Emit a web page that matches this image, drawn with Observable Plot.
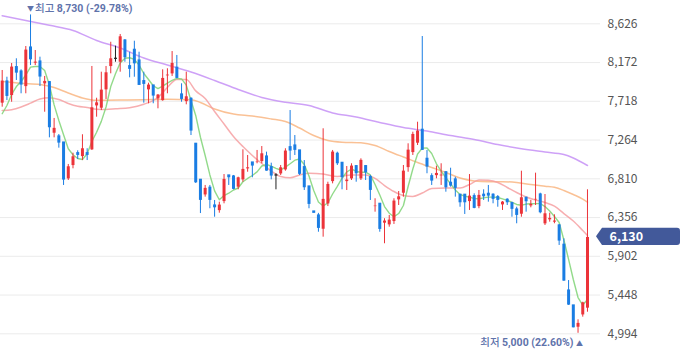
<!DOCTYPE html>
<html><head><meta charset="utf-8">
<script src="https://cdn.jsdelivr.net/npm/d3@7"></script>
<script src="https://cdn.jsdelivr.net/npm/@observablehq/plot@0.6"></script>
<style>
html,body{margin:0;padding:0;background:#fff;}
#chart{width:680px;height:358px;overflow:hidden;}
</style></head><body><div id="chart"></div>
<script>
const open = [7689,7950,7778,8118,8067,7883,8348,8157,8184,7915,7942,7337,7306,7235,6802,6958,7110,7063,7110,7142,7657,7630,7845,8118,8216,8169,8430,8129,8321,8196,7954,7845,7903,7739,7719,8009,8032,8111,7798,7707,7747,7220,6798,6614,6705,6497,6430,6536,6849,6837,6705,6790,6919,7001,6993,7005,7071,6946,6849,6860,6907,7180,7200,7142,6946,6720,6427,6380,6212,6509,6770,7103,6997,6770,6802,6958,6802,6958,6829,6477,6517,6283,6263,6302,6556,6634,6934,7110,7220,7384,7044,6840,6840,6837,6887,6763,6802,6623,6623,6536,6606,6477,6623,6634,6623,6595,6497,6564,6524,6450,6388,6587,6485,6556,6626,6275,6322,6295,6263,6037,5501,5326,5064,5208,5287];
const high = [8079,8000,8161,8216,8087,8360,8730,8313,8235,8009,7950,7517,7329,7235,6978,7110,7138,7326,7162,8126,7754,8059,8126,8410,8364,8501,8442,8293,8422,8293,8059,7930,7903,7798,8087,8099,8301,8255,7923,8059,7759,7224,6802,6732,6732,6556,6536,6860,6849,6849,6829,7150,7083,7001,7142,7188,7122,6993,6869,6966,7162,7610,7317,7142,7024,6720,6427,6405,7396,6770,7142,7122,6997,6954,6986,6966,7044,6966,6849,6576,6517,6342,6380,6576,6661,6966,7220,7356,7473,8477,7142,6869,6958,6986,6887,6934,6829,6623,6623,6860,6634,6673,6681,6732,6634,6614,6544,6576,6536,6477,6899,6595,6556,6876,6641,6626,6407,6388,6275,6107,5618,5326,5158,5364,6681];
const low = [7649,7727,7707,7962,7806,7806,8137,8137,7891,7590,7290,7290,7169,6732,6790,6927,7036,7024,7024,7142,7532,7610,7739,8040,8176,8059,8176,7993,8000,7903,7696,7689,7689,7630,7719,7806,8009,7982,7707,7677,7317,6755,6403,6595,6459,6360,6407,6517,6732,6681,6681,6770,6887,6822,6986,6986,6899,6798,6681,6849,6899,7024,7083,6849,6673,6459,6412,6184,6126,6485,6751,6966,6681,6673,6790,6770,6790,6790,6556,6419,6184,6049,6243,6275,6497,6595,6887,7083,7200,7142,6869,6732,6810,6732,6653,6712,6595,6477,6392,6439,6459,6459,6556,6536,6517,6477,6439,6497,6360,6283,6360,6419,6470,6497,6400,6263,6302,6283,6029,5610,5326,5064,5000,5189,5247];
const close = [7962,7782,8126,8055,7915,8325,8211,8184,8009,7958,7415,7408,7235,6802,6958,7075,7091,7169,7091,7649,7707,7856,8059,8223,8216,8481,8235,8099,8164,7911,7923,7915,7786,7798,7993,8032,8169,7993,7747,7778,7376,6770,6564,6705,6564,6477,6509,6810,6829,6693,6829,6927,6946,6966,7013,7110,6907,6849,6849,6946,7142,7142,7150,6869,6712,6517,6412,6236,6576,6751,7130,6993,6829,6802,6966,6876,7033,6887,6681,6497,6224,6322,6333,6556,6606,6907,7153,7337,7376,7150,6954,6790,6880,6860,6712,6732,6705,6536,6536,6614,6470,6623,6606,6614,6576,6564,6544,6536,6459,6388,6595,6548,6517,6576,6419,6407,6353,6322,6087,5618,5337,5071,5123,5364,6130];

// moving averages
const ma5 = [7572,7669,7798,7891,7950,8026,8118,8126,8126,8079,7909,7676,7493,7326,7162,7092,7048,7036,7103,7247,7356,7483,7651,7891,8040,8168,8223,8228,8209,8142,8044,7973,7900,7866,7895,7931,7963,7986,7980,7907,7727,7552,7297,7083,6855,6669,6564,6614,6641,6679,6702,6775,6814,6849,6891,6960,6978,6958,6933,6913,6946,6986,7028,7042,6978,6843,6673,6538,6491,6527,6632,6722,6817,6890,6925,6896,6887,6887,6855,6743,6620,6485,6407,6365,6403,6497,6720,6925,7101,7169,7171,7106,6986,6901,6822,6751,6679,6626,6606,6595,6579,6576,6587,6595,6595,6591,6575,6558,6535,6509,6500,6514,6517,6519,6521,6485,6433,6368,6298,6093,5865,5630,5419,5331,5396];
const ma20Idx = [0,2,4,6,8,10,12,14,16,18,20,22,24,27,30,33,35,37,39,41,43,45,47,49,51,53,55,57,59,61,63,65,68,71,74,77,79,81,83,85,87,89,91,94,97,99,101,103,105,107,109,111,113,115,117,119,121,123,124];
const ma20Val = [7610,7620,7651,7696,7745,7759,7739,7692,7659,7645,7625,7622,7630,7643,7684,7763,7880,7973,7973,7840,7751,7598,7452,7306,7188,7083,6989,6901,6837,6823,6855,6876,6866,6837,6855,6855,6814,6731,6661,6614,6603,6644,6696,6702,6702,6743,6796,6792,6767,6708,6649,6597,6562,6532,6491,6403,6316,6204,6146];
const ma60Idx = [0,4,8,11,14,17,20,25,30,35,40,42,45,49,53,57,60,63,66,69,72,76,79,82,85,88,91,94,97,100,103,106,109,112,115,117,119,121,123,124];
const ma60Val = [7950,7929,7915,7880,7815,7757,7730,7732,7736,7741,7737,7704,7628,7569,7546,7511,7481,7405,7317,7259,7239,7232,7200,7130,7065,7001,6942,6884,6819,6784,6775,6776,6767,6743,6723,6710,6673,6626,6573,6536];
const ma120Idx = [0,5,10,15,20,25,30,35,40,45,50,55,60,65,70,75,80,85,90,95,100,105,110,115,119,121,124];
const ma120Val = [8721,8665,8608,8548,8430,8342,8225,8143,8061,7962,7856,7763,7707,7669,7581,7534,7470,7411,7370,7317,7271,7212,7161,7124,7095,7054,6966];

const yTicks = [4994,5448,5902,6356,6810,7264,7718,8172,8626];
const maxIdx = 6, maxPrice = 8730, maxWord = "최고", maxNum = "8,730 (-29.78%)";
const minIdx = 122, minPrice = 5000, minWord = "최저", minNum = "5,000 (22.60%)";
const lastPrice = 6130;

const candles = open.map((o, i) => ({i, o, h: high[i], l: low[i], c: close[i]}));
const RED = "#ec3339", BLUE = "#1a7de3", DOJI = "#222";
const col = d => d.c > d.o ? RED : d.c < d.o ? BLUE : DOJI;
const series = (idx, val) => idx.map((i, k) => ({i, v: val[k]}));
const fmt = d3.format(",");
const LBL = "#5f73ab";
const CJK = "'Noto Sans CJK KR', 'Noto Sans', sans-serif";
const NUM = "Roboto, 'Noto Sans', sans-serif";

function badge(index, scales, values, dimensions) {
  const y = scales.y(lastPrice);
  const x0 = dimensions.width - dimensions.marginRight;
  const xr = dimensions.width;
  const p = d3.create("svg:path")
    .attr("d", `M${x0-4},${y} L${x0+2},${y-8.7} H${xr-3} Q${xr},${y-8.7} ${xr},${y-5.7} V${y+5.7} Q${xr},${y+8.7} ${xr-3},${y+8.7} H${x0+2} Z`)
    .attr("fill", "#42599a");
  return p.node();
}

// two-part label: Korean word (regular) + number (bold)
function extremeLabel(idx, price, word, num, anchor, dx, dy) {
  return (index, scales, values, dimensions) => {
    const x = scales.x(idx) + dx, y = scales.y(price) + dy;
    const t = d3.create("svg:text")
      .attr("x", x).attr("y", y).attr("dy", "0.35em")
      .attr("text-anchor", anchor).attr("fill", LBL).attr("font-size", 10.5);
    t.append("tspan").attr("font-family", CJK).attr("font-weight", 500).text(word + " ");
    t.append("tspan").attr("font-family", NUM).attr("font-weight", 700).text(num);
    return t.node();
  };
}

const chart = Plot.plot({
  width: 680, height: 358,
  marginLeft: 0, marginRight: 80, marginTop: 23.3, marginBottom: 24.7,
  x: {domain: [-0.36, 126.76], axis: null},
  y: {domain: [4994, 8626], axis: null},
  color: {type: "identity"},
  style: {fontFamily: CJK, fontSize: "12px", background: "#fff", overflow: "visible"},
  marks: [
    Plot.gridY(yTicks, {stroke: "#ececec", strokeOpacity: 1, strokeWidth: 1}),
    Plot.axisY(yTicks, {anchor: "right", tickSize: 0, tickPadding: 7, tickFormat: fmt, fill: "#555", fontSize: 12, label: null}),
    Plot.line(series(ma120Idx, ma120Val), {x: "i", y: "v", stroke: "#c28af5", strokeOpacity: 0.8, strokeWidth: 1.5, curve: "monotone-x"}),
    Plot.line(series(ma60Idx, ma60Val), {x: "i", y: "v", stroke: "#f9b27a", strokeOpacity: 0.8, strokeWidth: 1.5, curve: "monotone-x"}),
    Plot.line(series(ma20Idx, ma20Val), {x: "i", y: "v", stroke: "#f59a9c", strokeOpacity: 0.8, strokeWidth: 1.5, curve: "monotone-x"}),
    Plot.line(ma5.map((v, i) => ({i, v})), {x: "i", y: "v", stroke: "#7fd476", strokeOpacity: 0.85, strokeWidth: 1.4}),
    Plot.ruleX(candles, {x: "i", y1: "l", y2: "h", stroke: col, strokeWidth: 1}),
    Plot.ruleX(candles, {x: "i", y1: "o", y2: "c", stroke: col, strokeWidth: 3, insetTop: -0.6, insetBottom: -0.6}),
    Plot.text([{i: maxIdx, v: maxPrice}], {x: "i", y: "v", text: () => "▼", dy: -6, fontSize: 7, fill: LBL}),
    extremeLabel(maxIdx, maxPrice, maxWord, maxNum, "start", 5, -6),
    Plot.text([{i: minIdx, v: minPrice}], {x: "i", y: "v", text: () => "▲", dx: 1.5, dy: 10, fontSize: 7, fill: LBL}),
    extremeLabel(minIdx, minPrice, minWord, minNum, "end", -4, 10),
    badge,
    Plot.text([lastPrice], {y: d => d, text: d => fmt(d), frameAnchor: "right", textAnchor: "start", dx: 9, fill: "#fff", fontSize: 12.5, fontWeight: "bold"})
  ]
});
document.getElementById("chart").append(chart);
</script></body></html>
